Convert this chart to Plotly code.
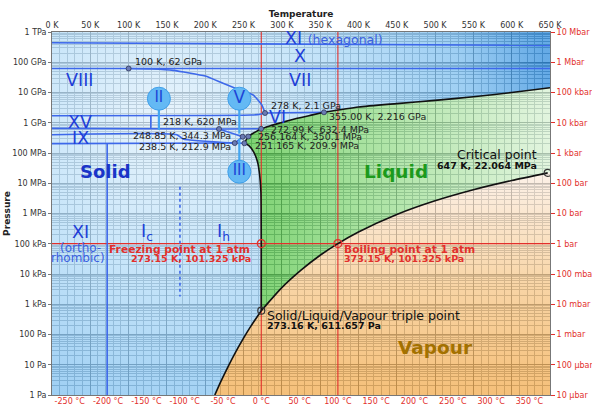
import numpy as np
import plotly.graph_objects as go

# ---------------- data ----------------
K_TICKS = list(range(0, 651, 50))
C_TICKS = list(range(-250, 351, 50))
PA_TICKS = [10.0 ** e for e in range(0, 13)]
PA_LABELS = ["1 Pa", "10 Pa", "100 Pa", "1 kPa", "10 kPa", "100 kPa", "1 MPa",
             "10 MPa", "100 MPa", "1 GPa", "10 GPa", "100 GPa", "1 TPa"]
BAR_TICKS = [10.0 ** e for e in range(-5, 8)]
BAR_LABELS = ["10 µbar", "100 µbar", "1 mbar", "10 mbar", "100 mbar", "1 bar",
              "10 bar", "100 bar", "1 kbar", "10 kbar", "100 kbar", "1 Mbar", "10 Mbar"]

FREEZE_T = 273.15
BOIL_T = 373.15
ATM_P = 101325.0
TRIPLE = (273.16, 611.657)
CRIT = (647.0, 22.064e6)

# liquid/vapour/solid boundaries (black)
SUB_T = [212.5, 220, 230, 240, 250, 260, 273.16]
SUB_P = [1.0, 2.66, 8.9, 27.3, 76.0, 196.0, 611.657]
VAP_T = [273.16, 300, 325, 350, 373.15, 400, 450, 500, 550, 600, 647]
VAP_P = [611.657, 3.54e3, 13.4e3, 41.7e3, 101325, 245.8e3, 932e3, 2.64e6, 6.12e6, 12.34e6, 22.064e6]
MELT_IH_T = [273.16, 273.15, 272.7, 271.3, 268.5, 263.5, 257.0, 251.165]
MELT_IH_P = [611.657, 101325, 5e6, 16e6, 48e6, 105e6, 175e6, 209.9e6]
MELT_III_T = [251.165, 253.0, 254.8, 256.164]
MELT_III_P = [209.9e6, 260e6, 310e6, 350.1e6]
MELT_V_T = [256.164, 262, 268, 272.99]
MELT_V_P = [350.1e6, 440e6, 540e6, 632.4e6]
MELT_VI_T = [272.99, 285, 300, 320, 340, 355]
MELT_VI_P = [632.4e6, 0.80e9, 1.02e9, 1.40e9, 1.82e9, 2.216e9]
MELT_VII_T = [355, 400, 450, 500, 550, 600, 650]
MELT_VII_P = [2.216e9, 3.3e9, 4.3e9, 5.5e9, 7.2e9, 10e9, 14.4e9]

# solid-solid boundaries (blue)
BLUE_LINES = {
    "X_XI":     ([0, 650], [440e9, 360e9]),
    "X_VII":    ([0, 650], [62e9, 62e9]),
    "VII_VIII": ([100, 130, 158, 200, 224, 250, 263, 274, 278],
                 [62e9, 59.5e9, 54e9, 35e9, 19.7e9, 11e9, 8.1e9, 3.8e9, 2.1e9]),
    "VI_VIII":  ([0, 200, 260, 272, 278], [1.70e9, 1.74e9, 1.80e9, 1.92e9, 2.1e9]),
    "VI_VII":   ([278, 355], [2.1e9, 2.216e9]),
    "II_VI":    ([0, 218], [650e6, 620e6]),
    "XV_VI":    ([129, 129], [640e6, 1.71e9]),
    "IX_II":    ([0, 163, 171, 238.5], [403e6, 403e6, 290e6, 212.9e6]),
    "IH_II":    ([0, 238.5], [204e6, 212.9e6]),
    "XI_IH":    ([72, 72], [1.0, 204e6]),
    "II_III":   ([238.5, 248.85], [212.9e6, 344.3e6]),
    "IH_III":   ([238.5, 251.165], [212.9e6, 209.9e6]),
    "II_V":     ([218, 248.85], [620e6, 344.3e6]),
    "III_V":    ([248.85, 256.164], [344.3e6, 350.1e6]),
    "V_VI":     ([218, 272.99], [620e6, 632.4e6]),
}
IC_IH_T = [167, 167]
IC_IH_P = [7.7e6, 1.8e3]

TRIPLE_PTS_T = [100, 278, 355, 218, 272.99, 248.85, 256.164, 238.5, 251.165]
TRIPLE_PTS_P = [62e9, 2.1e9, 2.216e9, 620e6, 632.4e6, 344.3e6, 350.1e6, 212.9e6, 209.9e6]

# phase bubbles: label, T, P centre, stick end pressure
BUBBLES = [("II", 139.5, 6.24e9, 575e6), ("V", 244.5, 6.24e9, 437e6), ("III", 244.5, 2.41e7, 290e6)]

# ---------------- styles ----------------
BLUE = "#3d68ea"
RED = "#e2302c"
FONT = "DejaVu Sans"
A = 0.74
SMALL = 9.5
TICK = 8


def under_white(hexc, a=A):
    h = hexc.lstrip("#")
    rgb = [int(h[i:i + 2], 16) for i in (0, 2, 4)]
    c = [max(0, min(255, round((v - (1 - a) * 255) / a))) for v in rgb]
    return f"rgba({c[0]},{c[1]},{c[2]},{a})"


fig = go.Figure()

# ---------------- region fills ----------------
LO, HI = 10 ** -3.5, 10 ** 21.5
XL = -350
solid_T = ([XL, SUB_T[0]] + SUB_T + MELT_IH_T[1:] + MELT_III_T[1:] + MELT_V_T[1:]
           + MELT_VI_T[1:] + MELT_VII_T[1:] + [650, XL])
solid_P = ([LO, LO] + SUB_P + MELT_IH_P[1:] + MELT_III_P[1:] + MELT_V_P[1:]
           + MELT_VI_P[1:] + MELT_VII_P[1:] + [HI, HI])
fig.add_trace(go.Scatter(
    x=solid_T, y=solid_P, mode="none", fill="toself",
    fillgradient=dict(type="radial", colorscale=[
        [0, under_white("#e8f4fc")], [0.4, under_white("#c6e4f9")],
        [0.78, under_white("#9ecff3")], [1, under_white("#66abe6")]]),
    hoverinfo="skip"))

liq_T = (MELT_IH_T + MELT_III_T[1:] + MELT_V_T[1:] + MELT_VI_T[1:] + MELT_VII_T[1:]
         + [700, 700] + VAP_T[::-1])
liq_P = (MELT_IH_P + MELT_III_P[1:] + MELT_V_P[1:] + MELT_VI_P[1:] + MELT_VII_P[1:]
         + [MELT_VII_P[-1], CRIT[1]] + VAP_P[::-1])
fig.add_trace(go.Scatter(
    x=liq_T, y=liq_P, mode="none", fill="toself",
    fillgradient=dict(type="horizontal", colorscale=[
        [0, under_white("#7cd271")], [0.35, under_white("#a9e2a0")],
        [1, under_white("#eef8ec")]]),
    hoverinfo="skip"))

vap_T = VAP_T + [700, 700, SUB_T[0]] + SUB_T
vap_P = VAP_P + [CRIT[1], 0.5, 0.5] + SUB_P
fig.add_trace(go.Scatter(
    x=vap_T, y=vap_P, mode="none", fill="toself",
    fillgradient=dict(type="vertical", colorscale=[
        [0, under_white("#f5be76")], [0.5, under_white("#f8d4a4")],
        [1, under_white("#fcf1e8")]]),
    hoverinfo="skip"))

# ---------------- reference lines (red) ----------------
for t in (FREEZE_T, BOIL_T):
    fig.add_trace(go.Scatter(x=[t, t], y=[PA_TICKS[0], PA_TICKS[-1]], mode="lines",
                             line=dict(color=RED, width=1.1), hoverinfo="skip"))
fig.add_trace(go.Scatter(x=[K_TICKS[0], K_TICKS[-1]], y=[ATM_P, ATM_P], mode="lines",
                         line=dict(color=RED, width=1.1), hoverinfo="skip"))

# ---------------- blue boundaries ----------------
for name, (tt, pp) in BLUE_LINES.items():
    fig.add_trace(go.Scatter(x=tt, y=pp, mode="lines",
                             line=dict(color=BLUE, width=1.6,
                                       shape="spline" if len(tt) > 3 else "linear",
                                       smoothing=0.5),
                             hoverinfo="skip"))
fig.add_trace(go.Scatter(x=IC_IH_T, y=IC_IH_P, mode="lines",
                         line=dict(color=BLUE, width=1.6, dash="3px,3px"), hoverinfo="skip"))

# ---------------- black boundaries ----------------
for tt, pp in [(SUB_T, SUB_P), (VAP_T, VAP_P), (MELT_IH_T, MELT_IH_P), (MELT_III_T, MELT_III_P),
               (MELT_V_T, MELT_V_P), (MELT_VI_T, MELT_VI_P), (MELT_VII_T, MELT_VII_P)]:
    fig.add_trace(go.Scatter(x=tt, y=pp, mode="lines",
                             line=dict(color="#111111", width=1.6, shape="spline", smoothing=0.6),
                             hoverinfo="skip"))

# ---------------- phase bubbles ----------------
for lab, t, p, pend in BUBBLES:
    fig.add_trace(go.Scatter(x=[t, t], y=[p, pend], mode="lines",
                             line=dict(color="#45a6f0", width=2.2), hoverinfo="skip"))
for lab, t, p, pend in BUBBLES:
    fig.add_trace(go.Scatter(x=[t], y=[p], mode="markers+text", text=[lab],
                             textposition="middle center",
                             textfont=dict(family=FONT, size=15 if lab != "V" else 17, color="#1d45d6"),
                             marker=dict(size=23, color="#64b9f4", line=dict(color="#3f9fe9", width=1)),
                             hoverinfo="skip"))

# ---------------- points ----------------
fig.add_trace(go.Scatter(x=TRIPLE_PTS_T, y=TRIPLE_PTS_P, mode="markers",
                         marker=dict(size=5, color="#6b7bb4", line=dict(color="#2d3559", width=0.8)),
                         hoverinfo="skip"))
fig.add_trace(go.Scatter(x=[TRIPLE[0], CRIT[0]], y=[TRIPLE[1], CRIT[1]], mode="markers",
                         marker=dict(size=7, symbol="circle-open", color="#333333", line=dict(width=1.2)),
                         hoverinfo="skip"))
fig.add_trace(go.Scatter(x=[FREEZE_T, BOIL_T], y=[ATM_P, ATM_P], mode="markers",
                         marker=dict(size=8, symbol="circle-open", color=RED, line=dict(width=1.2)),
                         hoverinfo="skip"))

# invisible trace so that the secondary (°C / bar) axes are drawn
fig.add_trace(go.Scatter(x=[], y=[], xaxis="x2", yaxis="y2", mode="lines", hoverinfo="skip"))

# ---------------- text ----------------
ann = []


def add(text, t, lp, size=SMALL, color="#222222", xanchor="center", bold=False):
    ann.append(dict(text=f"<b>{text}</b>" if bold else text, x=t, y=lp, xref="x", yref="y",
                    showarrow=False, xanchor=xanchor, yanchor="middle",
                    font=dict(family=FONT, size=size, color=color)))


NUM = "#1f3fd8"
BIG = 17.5
add("XI <span style='font-size:12.5px;color:#3a5fe0'>(hexagonal)</span>", 301.0, 11.79, BIG, NUM, "left")
add("X", 323.8, 11.21, BIG, NUM)
add("VIII", 35.6, 10.41, BIG, NUM)
add("VII", 323.8, 10.41, BIG, NUM)
add("VI", 294.1, 9.20, BIG, NUM)
add("XV", 36.6, 9.035, BIG, NUM)
add("IX", 36.6, 8.486, BIG, NUM)
add("XI", 36.6, 5.40, BIG, NUM)
add("(ortho-", 36.6, 4.85, 12, "#3a5fe0")
add("rhombic)", 34.0, 4.54, 12, "#3a5fe0")
add("I<sub>c</sub>", 124.0, 5.36, BIG, NUM)
add("I<sub>h</sub>", 223.2, 5.36, BIG, NUM)
add("Solid", 69.2, 7.405, 18, "#1a35c8", bold=True)
add("Liquid", 449.0, 7.405, 18.5, "#1c9a1c", bold=True)
add("Vapour", 500.0, 1.554, 18.5, "#a37100", bold=True)

add("100 K, 62 GPa", 105.3, 11.02, xanchor="left")
add("278 K, 2.1 GPa", 283.6, 9.554, xanchor="left")
add("355.00 K, 2.216 GPa", 358.9, 9.223, xanchor="left")
add("218 K, 620 MPa", 141.9, 9.035, xanchor="left")
add("272.99 K, 632.4 MPa", 283.6, 8.793, xanchor="left")
add("248.85 K, 344.3 MPa", 236.6, 8.595, xanchor="right")
add("256.164 K, 350.1 MPa", 265.9, 8.552, xanchor="left")
add("238.5 K, 212.9 MPa", 236.6, 8.208, xanchor="right")
add("251.165 K, 209.9 MPa", 262.0, 8.264, xanchor="left")
add("Critical point", 635.6, 7.957, 12.5, "#111111", "right")
add("647 K, 22.064 MPa", 635.6, 7.58, SMALL, "#111111", "right", bold=True)
add("Freezing point at 1 atm", 260.6, 4.816, 10.7, RED, "right", bold=True)
add("273.15 K, 101.325 kPa", 262.0, 4.519, SMALL, RED, "right", bold=True)
add("Boiling point at 1 atm", 378.1, 4.816, 10.7, RED, "left", bold=True)
add("373.15 K, 101.325 kPa", 378.1, 4.519, SMALL, RED, "left", bold=True)
add("Solid/Liquid/Vapour triple point", 278.0, 2.612, 12.5, "#111111", "left")
add("273.16 K, 611.657 Pa", 278.0, 2.314, SMALL, "#111111", "left", bold=True)

MAJ = "#25313d"
MIN = "#76838f"

fig.update_layout(
    width=592, height=405,
    margin=dict(l=52, r=42, t=32, b=10),
    paper_bgcolor="white", plot_bgcolor="white", showlegend=False,
    font=dict(family=FONT, size=TICK, color="#333333"),
    annotations=ann,
    xaxis=dict(range=[K_TICKS[0], K_TICKS[-1]], side="top", tickmode="array", automargin=False,
               tickvals=K_TICKS, ticktext=[f"{k} K" for k in K_TICKS],
               showgrid=True, gridcolor=MAJ, gridwidth=1,
               minor=dict(dtick=10, showgrid=True, gridcolor=MIN, gridwidth=1, ticks=""),
               ticks="", showline=True, linecolor="#777", zeroline=False,
               tickfont=dict(size=TICK, color="#333"),
               title=dict(text="<b>Temperature</b>", standoff=1, font=dict(size=9, color="#222"))),
    xaxis2=dict(range=[K_TICKS[0] - 273.15, K_TICKS[-1] - 273.15], overlaying="x", side="bottom",
                anchor="y", tickmode="array", tickvals=C_TICKS, automargin=False,
                ticktext=[f"{c} °C" for c in C_TICKS], showgrid=False, zeroline=False,
                ticks="", ticklabelstandoff=-2, showline=True, linecolor="#777",
                tickfont=dict(size=TICK, color=RED)),
    yaxis=dict(type="log", range=[0, 12], tickmode="array", tickvals=PA_TICKS, ticktext=PA_LABELS,
               showgrid=True, gridcolor=MAJ, gridwidth=1, automargin=False,
               minor=dict(dtick="D1", showgrid=True, gridcolor=MIN, gridwidth=1, ticks=""),
               ticks="outside", ticklen=3, tickcolor="#777", showline=True, linecolor="#777",
               zeroline=False, tickfont=dict(size=TICK, color="#333"),
               title=dict(text="<b>Pressure</b>", standoff=0, font=dict(size=9, color="#222"))),
    yaxis2=dict(type="log", range=[-5, 7], overlaying="y", side="right", anchor="x",
                tickmode="array", tickvals=BAR_TICKS, ticktext=BAR_LABELS, showgrid=False,
                zeroline=False, ticks="outside", ticklen=4, tickcolor=RED, automargin=False,
                showline=True, linecolor="#777", tickfont=dict(size=TICK, color=RED)),
)

fig.write_html("out.html")
